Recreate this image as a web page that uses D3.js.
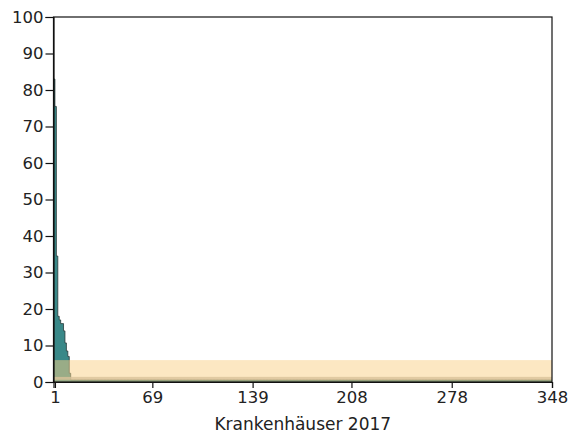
<!DOCTYPE html>
<html>
<head>
<meta charset="utf-8">
<script src="https://cdn.jsdelivr.net/npm/d3@7"></script>
<style>
  html, body { margin: 0; padding: 0; background: #fff; }
  svg { display: block; }
  text { font-family: "DejaVu Sans", Verdana, sans-serif; fill: #222; }
</style>
</head>
<body>
<svg id="chart" width="571" height="436"></svg>
<script>
// Hospitals ranked by value (descending); only the first few are above the floor.
const hospitalCount = 348;
const topValues = [83, 75.5, 34.5, 18, 17, 16, 16, 14, 10.7, 8.5, 7, 2.4];
const restValue = 0.6;
const values = d3.range(hospitalCount).map(i => i < topValues.length ? topValues[i] : restValue);

// Reference range bands
const refBand = [0, 6];
const innerBand = [0.6, 1.4];

const yTicks = [0, 10, 20, 30, 40, 50, 60, 70, 80, 90, 100];
const xTickLabels = [1, 69, 139, 208, 278, 348];
const xTitle = "Krankenhäuser 2017";

const margin = { left: 53.5, right: 19, top: 17, bottom: 54 };
const W = 571, H = 436;
const svg = d3.select("#chart");

const x = d3.scaleLinear().domain([0, hospitalCount]).range([margin.left, W - margin.right]);
const y = d3.scaleLinear().domain([0, 100]).range([H - margin.bottom, margin.top]);

// Step area of ranked values
const pts = [];
values.forEach((v, i) => { pts.push([i, v]); pts.push([i + 1, v]); });
const area = d3.area().x(d => x(d[0])).y0(y(0)).y1(d => y(d[1]));
const line = d3.line().x(d => x(d[0])).y(d => y(d[1]));

svg.append("path").attr("d", area(pts)).attr("fill", "#398888");
svg.append("path").attr("d", line(pts)).attr("fill", "none")
  .attr("stroke", "#2a3a3a").attr("stroke-width", 0.8);

// Bands drawn over the bars
svg.append("rect")
  .attr("x", x(0)).attr("width", x(hospitalCount) - x(0))
  .attr("y", y(refBand[1])).attr("height", y(refBand[0]) - y(refBand[1]))
  .attr("fill", "#f9cf86").attr("opacity", 0.5);
svg.append("rect")
  .attr("x", x(0)).attr("width", x(hospitalCount) - x(0))
  .attr("y", y(innerBand[1])).attr("height", y(innerBand[0]) - y(innerBand[1]))
  .attr("fill", "#d9c39a").attr("opacity", 0.8);

// Frame
svg.append("rect")
  .attr("x", x(0)).attr("y", y(100))
  .attr("width", x(hospitalCount) - x(0)).attr("height", y(0) - y(100))
  .attr("fill", "none").attr("stroke", "#111").attr("stroke-width", 1.2);

const labelFont = "16.5px";

// Y axis
const yAxis = d3.axisLeft(y).tickValues(yTicks).tickSize(8).tickPadding(2);
const gy = svg.append("g").attr("transform", `translate(${x(0)},0)`).call(yAxis);
gy.select(".domain").attr("stroke", "#111").attr("stroke-width", 1.2);
gy.selectAll(".tick line").attr("stroke", "#111").attr("stroke-width", 1.2);
gy.selectAll("text").style("font-size", labelFont).style("font-family", "DejaVu Sans, Verdana, sans-serif").attr("fill", "#222");

// X axis
const xAxis = d3.axisBottom(x).tickValues(xTickLabels).tickFormat(d3.format("d")).tickSize(6).tickPadding(3);
const gx = svg.append("g").attr("transform", `translate(0,${y(0)})`).call(xAxis);
gx.select(".domain").attr("stroke", "#111").attr("stroke-width", 1.2);
gx.selectAll(".tick line").attr("stroke", "#111").attr("stroke-width", 1.2);
gx.selectAll("text").style("font-size", labelFont).style("font-family", "DejaVu Sans, Verdana, sans-serif").attr("fill", "#222");

svg.append("text")
  .attr("x", (x(0) + x(hospitalCount)) / 2).attr("y", 430)
  .attr("text-anchor", "middle").style("font-size", "17px")
  .text(xTitle);
</script>
</body>
</html>
